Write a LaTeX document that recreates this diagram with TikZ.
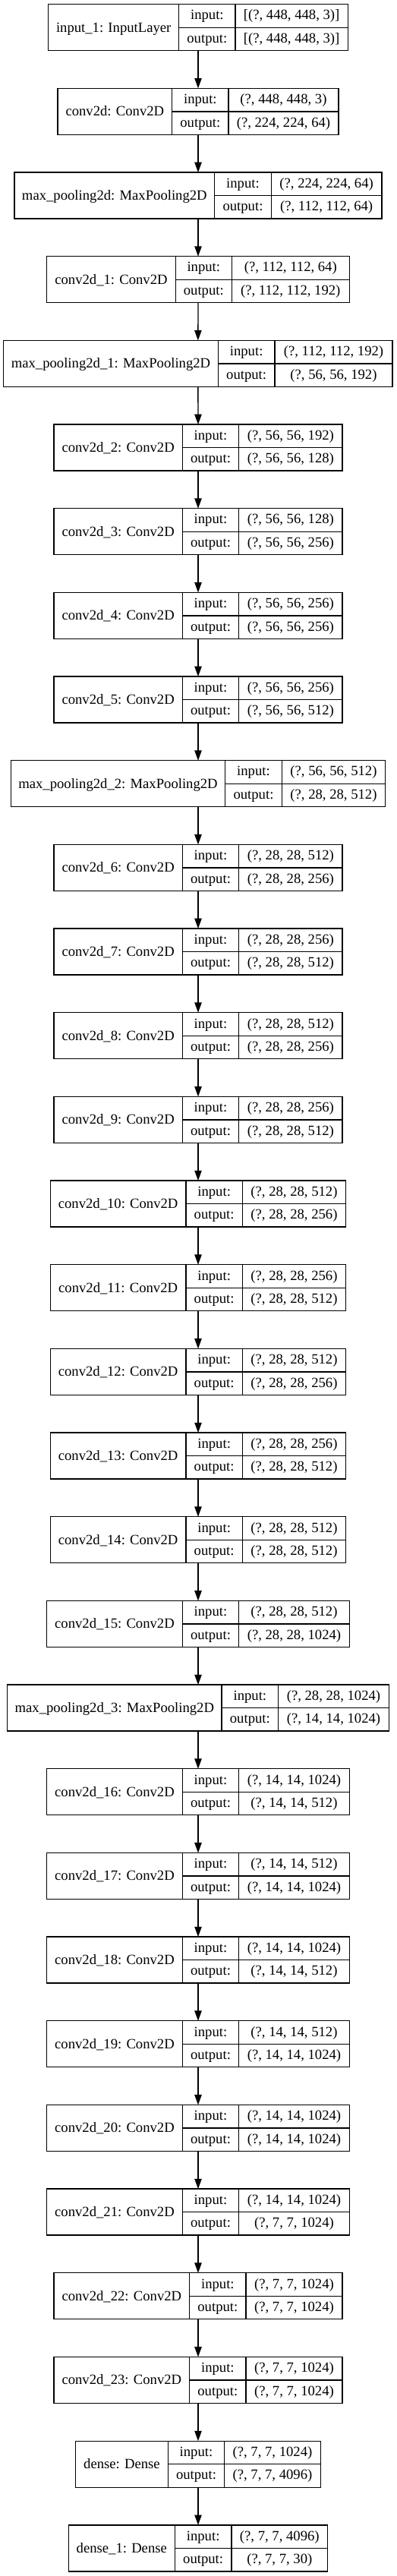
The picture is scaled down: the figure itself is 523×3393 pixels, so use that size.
\documentclass[tikz,border=0pt]{standalone}
\usepackage{fontspec}
\setmainfont{Liberation Serif}
\usetikzlibrary{arrows.meta}
\tikzset{
  box/.style={draw, line width=1pt, inner sep=0pt, outer sep=0pt},
  rulel/.style={line width=1pt},
  txt/.style={anchor=base, inner sep=0pt, font=\fontsize{14pt}{16pt}\selectfont},
  arr/.style={line width=1pt, -{Triangle[length=10pt,width=7pt]}},
}
\newcommand\layer[9]{%
  \pgfmathsetmacro\lt{5.7+110.67*#2}%
  \pgfmathsetmacro\lb{\lt+61}%
  \pgfmathsetmacro\lm{\lt+30.5}%
  \pgfmathsetmacro\lw{(#6-#3)*0.75}%
  \pgfmathsetmacro\lh{61*0.75}%
  \pgfmathsetmacro\lcx{(#3+#6)/2}%
  \node[box, minimum width=\lw pt, minimum height=\lh pt] (#1) at (\lcx,\lm) {};
  \draw[rulel] (#4,\lt) -- (#4,\lb) (#5,\lt) -- (#5,\lb) (#4,\lm) -- (#6,\lm);
  \pgfmathsetmacro\xa{(#3+#4)/2}%
  \pgfmathsetmacro\xb{(#4+#5)/2}%
  \pgfmathsetmacro\xc{(#5+#6)/2}%
  \pgfmathsetmacro\ya{\lm+6}%
  \pgfmathsetmacro\yb{\lt+15.25+5}%
  \pgfmathsetmacro\yc{\lm+15.25+5}%
  \node[txt] (#1-name) at (\xa,\ya) {#7};
  \node[txt] (#1-inl) at (\xb,\yb) {input:};
  \node[txt] (#1-outl) at (\xb,\yc) {output:};
  \node[txt] (#1-inv) at (\xc,\yb) {#8};
  \node[txt] (#1-outv) at (\xc,\yc) {#9};
}
\begin{document}
\begin{tikzpicture}[x=0.75pt,y=-0.75pt]
\useasboundingbox (0,0) rectangle (523,3393);
\layer{n0}{0}{63.7}{235.7}{310}{458.3}{input\_1: InputLayer}{[(?, 448, 448, 3)]}{[(?, 448, 448, 3)]}
\layer{n1}{1}{76}{226.7}{301}{446}{conv2d: Conv2D}{(?, 448, 448, 3)}{(?, 224, 224, 64)}
\layer{n2}{2}{19}{282.7}{357.3}{503}{max\_pooling2d: MaxPooling2D}{(?, 224, 224, 64)}{(?, 112, 112, 64)}
\layer{n3}{3}{61.7}{231.3}{305.3}{460.3}{conv2d\_1: Conv2D}{(?, 112, 112, 64)}{(?, 112, 112, 192)}
\layer{n4}{4}{4.7}{287.3}{362}{517}{max\_pooling2d\_1: MaxPooling2D}{(?, 112, 112, 192)}{(?, 56, 56, 192)}
\layer{n5}{5}{71}{240.3}{314.7}{451}{conv2d\_2: Conv2D}{(?, 56, 56, 192)}{(?, 56, 56, 128)}
\layer{n6}{6}{71}{240.3}{314.7}{451}{conv2d\_3: Conv2D}{(?, 56, 56, 128)}{(?, 56, 56, 256)}
\layer{n7}{7}{71}{240.3}{314.7}{451}{conv2d\_4: Conv2D}{(?, 56, 56, 256)}{(?, 56, 56, 256)}
\layer{n8}{8}{71}{240.3}{314.7}{451}{conv2d\_5: Conv2D}{(?, 56, 56, 256)}{(?, 56, 56, 512)}
\layer{n9}{9}{14.3}{296.7}{371.3}{507.7}{max\_pooling2d\_2: MaxPooling2D}{(?, 56, 56, 512)}{(?, 28, 28, 512)}
\layer{n10}{10}{71}{240.3}{314.7}{451}{conv2d\_6: Conv2D}{(?, 28, 28, 512)}{(?, 28, 28, 256)}
\layer{n11}{11}{71}{240.3}{314.7}{451}{conv2d\_7: Conv2D}{(?, 28, 28, 256)}{(?, 28, 28, 512)}
\layer{n12}{12}{71}{240.3}{314.7}{451}{conv2d\_8: Conv2D}{(?, 28, 28, 512)}{(?, 28, 28, 256)}
\layer{n13}{13}{71}{240.3}{314.7}{451}{conv2d\_9: Conv2D}{(?, 28, 28, 256)}{(?, 28, 28, 512)}
\layer{n14}{14}{66.3}{245}{319.3}{455.7}{conv2d\_10: Conv2D}{(?, 28, 28, 512)}{(?, 28, 28, 256)}
\layer{n15}{15}{66.3}{245}{319.3}{455.7}{conv2d\_11: Conv2D}{(?, 28, 28, 256)}{(?, 28, 28, 512)}
\layer{n16}{16}{66.3}{245}{319.3}{455.7}{conv2d\_12: Conv2D}{(?, 28, 28, 512)}{(?, 28, 28, 256)}
\layer{n17}{17}{66.3}{245}{319.3}{455.7}{conv2d\_13: Conv2D}{(?, 28, 28, 256)}{(?, 28, 28, 512)}
\layer{n18}{18}{66.3}{245}{319.3}{455.7}{conv2d\_14: Conv2D}{(?, 28, 28, 512)}{(?, 28, 28, 512)}
\layer{n19}{19}{61.7}{240.3}{314.7}{460.3}{conv2d\_15: Conv2D}{(?, 28, 28, 512)}{(?, 28, 28, 1024)}
\layer{n20}{20}{9.7}{292}{366.7}{512.3}{max\_pooling2d\_3: MaxPooling2D}{(?, 28, 28, 1024)}{(?, 14, 14, 1024)}
\layer{n21}{21}{61.7}{240.3}{314.7}{460.3}{conv2d\_16: Conv2D}{(?, 14, 14, 1024)}{(?, 14, 14, 512)}
\layer{n22}{22}{61.7}{240.3}{314.7}{460.3}{conv2d\_17: Conv2D}{(?, 14, 14, 512)}{(?, 14, 14, 1024)}
\layer{n23}{23}{61.7}{240.3}{314.7}{460.3}{conv2d\_18: Conv2D}{(?, 14, 14, 1024)}{(?, 14, 14, 512)}
\layer{n24}{24}{61.7}{240.3}{314.7}{460.3}{conv2d\_19: Conv2D}{(?, 14, 14, 512)}{(?, 14, 14, 1024)}
\layer{n25}{25}{61.7}{240.3}{314.7}{460.3}{conv2d\_20: Conv2D}{(?, 14, 14, 1024)}{(?, 14, 14, 1024)}
\layer{n26}{26}{61.7}{240.3}{314.7}{460.3}{conv2d\_21: Conv2D}{(?, 14, 14, 1024)}{(?, 7, 7, 1024)}
\layer{n27}{27}{71}{249.7}{324}{451}{conv2d\_22: Conv2D}{(?, 7, 7, 1024)}{(?, 7, 7, 1024)}
\layer{n28}{28}{71}{249.7}{324}{451}{conv2d\_23: Conv2D}{(?, 7, 7, 1024)}{(?, 7, 7, 1024)}
\layer{n29}{29}{99.7}{221.3}{295.7}{422.3}{dense: Dense}{(?, 7, 7, 1024)}{(?, 7, 7, 4096)}
\layer{n30}{30}{90.3}{230.3}{305}{431.7}{dense\_1: Dense}{(?, 7, 7, 4096)}{(?, 7, 7, 30)}
\foreach \a [evaluate=\a as \b using int(\a+1)] in {0,...,29}{
  \draw[arr] (n\a.south) -- (n\b.north);
}
\end{tikzpicture}
\end{document}
